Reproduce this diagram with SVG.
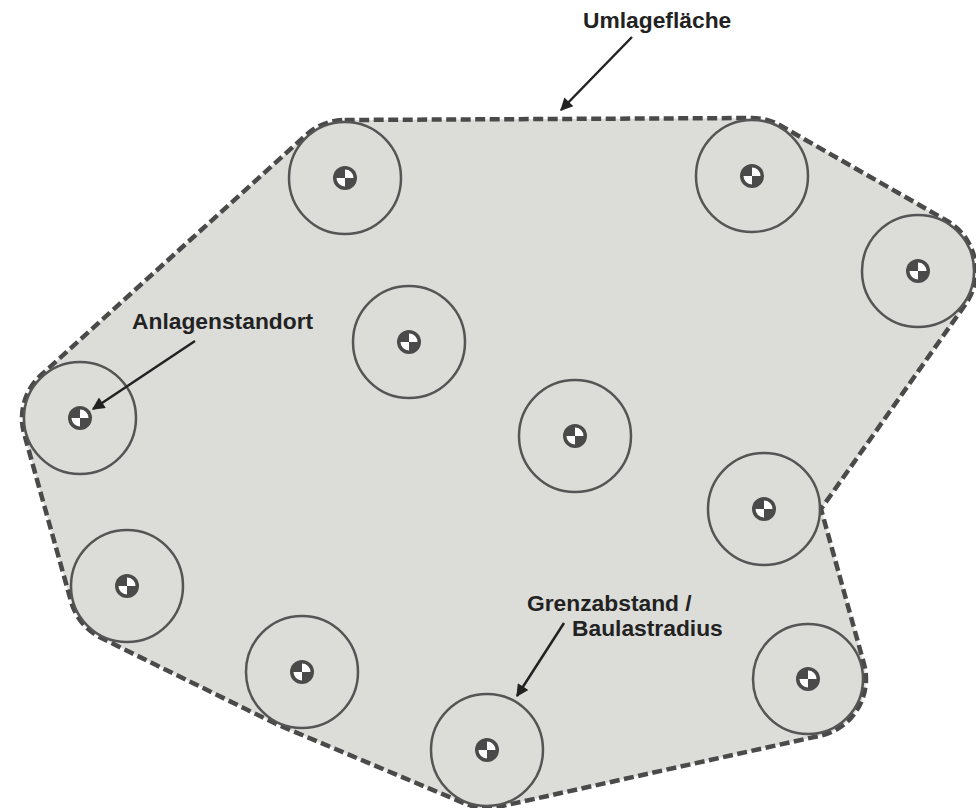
<svg xmlns="http://www.w3.org/2000/svg" width="976" height="808" viewBox="0 0 976 808">
<style>
.area{fill:#dcdcd9;stroke:#4a4a4a;stroke-width:4.5;stroke-dasharray:10 4.5;stroke-linejoin:round}
.ring{fill:none;stroke:#555;stroke-width:2.5}
.lbl{font-family:"Liberation Sans",Arial,sans-serif;font-weight:bold;font-size:22.8px;fill:#222}
.arr{stroke:#222;stroke-width:2.5;fill:none;marker-end:url(#ah)}
</style>
<defs>
<marker id="ah" viewBox="0 0 10 10" refX="9" refY="5" markerWidth="7" markerHeight="5" markerUnits="strokeWidth" orient="auto">
<path d="M0,0 L10,5 L0,10 Z" fill="#222"/>
</marker>
<g id="site">
<circle r="12" fill="#4a4a4a"/>
<path d="M0,0 L0,-8.5 A8.5,8.5 0 0 1 8.5,0 Z M0,0 L0,8.5 A8.5,8.5 0 0 1 -8.5,0 Z" fill="#fff"/>
</g>
</defs>
<g id="umlageflaeche">
<path class="area" d="M344.7,120 L751.7,118 A58,58 0 0 1 780.8,125.7 L946.8,220.7 A58,58 0 0 1 965.4,304.4 L821,509 L863.9,663.5 A58,58 0 0 1 820.5,735.6 L499.5,806.6 A58,58 0 0 1 464.5,803.4 L279.5,725.4 A58,58 0 0 1 276.4,724.1 L101.4,638.1 A58,58 0 0 1 71.1,601.6 L24.1,433.6 A58,58 0 0 1 41.1,375 L306.1,135 A58,58 0 0 1 344.7,120 Z"/>
</g>
<g id="n1"><circle class="ring" cx="345" cy="178" r="56"/><use href="#site" x="345" y="178"/></g>
<g id="n2"><circle class="ring" cx="752" cy="176" r="56"/><use href="#site" x="752" y="176"/></g>
<g id="n3"><circle class="ring" cx="918" cy="271" r="56"/><use href="#site" x="918" y="271"/></g>
<g id="n4"><circle class="ring" cx="409" cy="342" r="56"/><use href="#site" x="409" y="342"/></g>
<g id="n5"><circle class="ring" cx="80" cy="418" r="56"/><use href="#site" x="80" y="418"/></g>
<g id="n6"><circle class="ring" cx="575" cy="436" r="56"/><use href="#site" x="575" y="436"/></g>
<g id="n7"><circle class="ring" cx="764" cy="509" r="56"/><use href="#site" x="764" y="509"/></g>
<g id="n8"><circle class="ring" cx="127" cy="586" r="56"/><use href="#site" x="127" y="586"/></g>
<g id="n9"><circle class="ring" cx="302" cy="672" r="56"/><use href="#site" x="302" y="672"/></g>
<g id="n10"><circle class="ring" cx="808" cy="679" r="55"/><use href="#site" x="808" y="679"/></g>
<g id="n11"><circle class="ring" cx="487" cy="750" r="56"/><use href="#site" x="487" y="750"/></g>
<g id="labels">
<text class="lbl" x="583" y="28">Umlagefläche</text>
<text class="lbl" x="132" y="329">Anlagenstandort</text>
<text class="lbl" x="527" y="611">Grenzabstand /</text>
<text class="lbl" x="572" y="636">Baulastradius</text>
</g>
<g id="connectors">
<line class="arr" x1="632" y1="37" x2="561" y2="110"/>
<line class="arr" x1="195" y1="341" x2="93" y2="409"/>
<line class="arr" x1="564" y1="623" x2="517" y2="696"/>
</g>
</svg>
